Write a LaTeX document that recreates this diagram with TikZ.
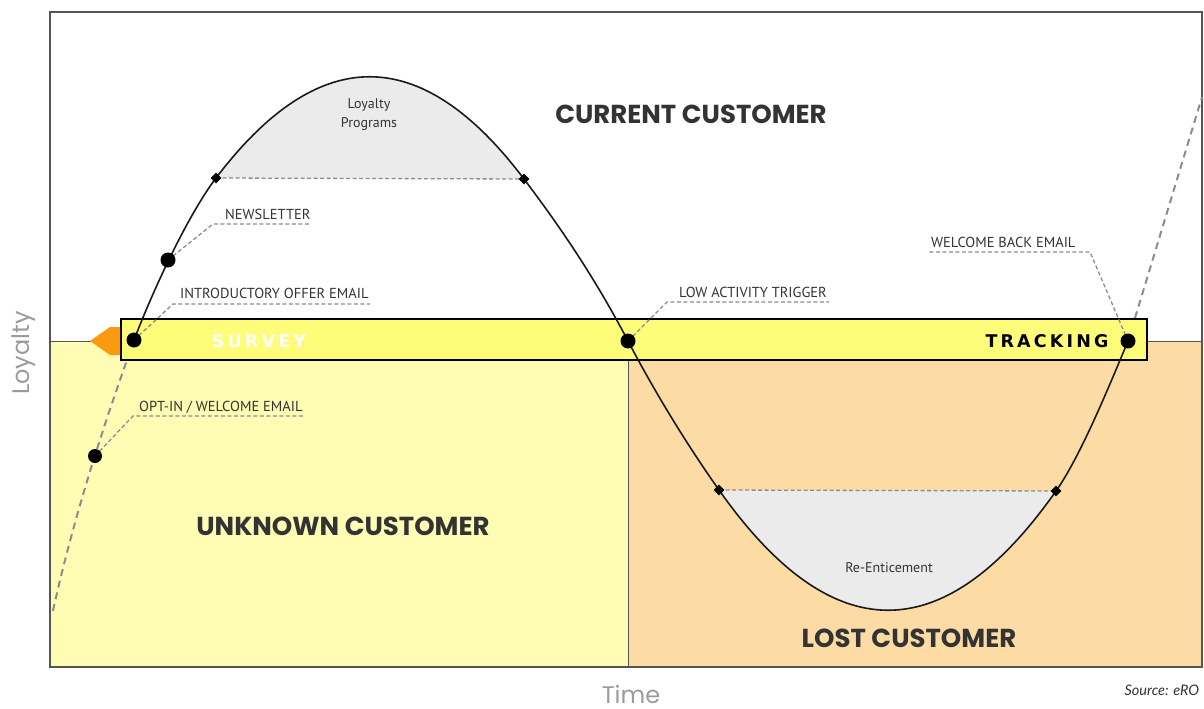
\documentclass[tikz,border=0pt]{standalone}
\usepackage{fontspec}
\setmainfont{PT Sans}
\newfontfamily\headfont{Poppins}
\newfontfamily\barfont{DejaVu Sans}[LetterSpace=18]
\newfontfamily\srcfont{Lato}
\usetikzlibrary{shapes.geometric}

\definecolor{unknownfill}{HTML}{FFFDB4}
\definecolor{lostfill}{HTML}{FDDBA5}
\definecolor{barfill}{HTML}{FFFC7A}
\definecolor{arrowfill}{HTML}{FA9A10}
\definecolor{zonefill}{HTML}{EBEBEB}
\definecolor{inkgray}{HTML}{333333}
\definecolor{inkblack}{HTML}{1A1A1A}
\definecolor{axisgray}{HTML}{9B9B9B}
\definecolor{framegray}{HTML}{555555}
\definecolor{dashgray}{HTML}{8C8C8C}

\begin{document}
\begin{tikzpicture}[x=1pt, y=-1pt,
    wave/.style={line width=1.6pt, inkblack},
    extline/.style={dashgray, line width=2pt, dash pattern=on 7pt off 5pt},
    leader/.style={dashgray, line width=1.3pt, dash pattern=on 4pt off 2.5pt},
    dot/.style={circle, fill=black, inner sep=0pt, minimum size=15pt},
    diamondmark/.style={diamond, fill=black, inner sep=0pt, minimum size=11pt},
    head/.style={font=\headfont\bfseries\fontsize{26}{30}\selectfont, text=inkgray},
    bartext/.style={font=\barfont\bfseries\fontsize{17.5}{20}\selectfont},
    lbl/.style={font=\fontsize{14.5}{16}\selectfont, text=inkgray, inner sep=0pt, anchor=base west},
    zone/.style={font=\fontsize{14}{19}\selectfont, text=inkgray, align=center},
    axislabel/.style={font=\headfont\fontsize{24}{26}\selectfont, text=axisgray, inner sep=0pt}]
    \useasboundingbox (0,0) rectangle (1204,709);

    % Fondo y marco
    \fill[unknownfill] (50,341) rectangle (628,667);
    \fill[lostfill] (628,341) rectangle (1202,667);
    \draw[framegray, line width=1pt] (50,341) -- (1202,341);
    \draw[framegray, line width=1pt] (628,341) -- (628,667);
    \draw[framegray, line width=2pt] (50,12) rectangle (1202,667);

    % Puntos de la curva
    \coordinate (start) at (134,340);
    \coordinate (news) at (168,260);
    \coordinate (lp-l) at (216,178);
    \coordinate (lp-r) at (524,179);
    \coordinate (lowact) at (628,341);
    \coordinate (re-l) at (719,490);
    \coordinate (re-r) at (1056,491);
    \coordinate (back) at (1128,341);
    \coordinate (optin) at (95,456);
    \coordinate (ext-l) at (52,615);
    \coordinate (ext-r) at (1202,97);

    % Zonas sombreadas
    \fill[zonefill] (lp-l) .. controls (318.7,42.7) and (421.3,43) .. (lp-r) -- cycle;
    \fill[zonefill] (re-l) .. controls (831.7,650) and (944,650.3) .. (re-r) -- cycle;
    \draw[leader] (lp-l) -- (lp-r);
    \draw[leader] (re-l) -- (re-r);

    % Prolongaciones
    \draw[extline] (start) .. controls (113,400) and (78,497) .. (ext-l);
    \draw[extline] (back) -- (ext-r);

    % Barra
    \node[draw=black, line width=2.5pt, fill=barfill, minimum width=1026pt, minimum height=41pt, inner sep=0pt] (bar) at (634,339.5) {};
    \fill[arrowfill] (90,341) -- (110,327) -- (120,327) -- (120,355) -- (110,355) -- cycle;

    % Curva
    \draw[wave] (start) .. controls (155,285.4) and (189,213.6) .. (lp-l)
        .. controls (318.7,42.7) and (421.3,43) .. (lp-r)
        .. controls (559,225.5) and (593,274.5) .. (lowact)
        .. controls (658,398) and (689,447.4) .. (re-l)
        .. controls (831.7,650) and (944,650.3) .. (re-r)
        .. controls (1080,457) and (1108,389) .. (back);

    % Lineas de etiqueta
    \coordinate (optin-b) at (133,416);  \coordinate (optin-e) at (303,416);
    \coordinate (start-b) at (173,304);  \coordinate (start-e) at (370,304);
    \coordinate (news-b) at (213,224);   \coordinate (news-e) at (310,224);
    \coordinate (lowact-b) at (667,302); \coordinate (lowact-e) at (829,302);
    \coordinate (back-b) at (1090,252);  \coordinate (back-e) at (927,252);
    \foreach \p in {optin, start, news, lowact, back}
        \draw[leader] (\p) -- (\p-b) -- (\p-e);

    % Marcas
    \node[dot, minimum size=14pt] (optin-dot) at (optin) {};
    \foreach \p in {start, news, lowact, back}
        \node[dot] (\p-dot) at (\p) {};
    \foreach \p in {lp-l, lp-r, re-l, re-r}
        \node[diamondmark] (\p-mark) at (\p) {};

    % Textos
    \node[head] (current) at (691,114) {CURRENT CUSTOMER};
    \node[head] (unknown) at (343,526) {UNKNOWN CUSTOMER};
    \node[head] (lost) at (909,638) {LOST CUSTOMER};
    \node[bartext, text=white] (survey) at (259,341) {SURVEY};
    \node[bartext, text=black] (tracking) at (1047,341) {TRACKING};

    \node[lbl] (optin-lbl) at (139,411) {OPT-IN / WELCOME EMAIL};
    \node[lbl] (start-lbl) at (180,298) {INTRODUCTORY OFFER EMAIL};
    \node[lbl] (news-lbl) at (225,219) {NEWSLETTER};
    \node[lbl] (lowact-lbl) at (679,297) {LOW ACTIVITY TRIGGER};
    \node[lbl] (back-lbl) at (931,247) {WELCOME BACK EMAIL};

    \node[zone] (loyalty-zone) at (369,115) {Loyalty\\Programs};
    \node[zone] (re-zone) at (889,568) {Re-Enticement};

    \node[axislabel, rotate=90] (loyalty) at (24,353) {Loyalty};
    \node[axislabel] (time) at (631,694) {Time};
    \node[font=\srcfont\itshape\fontsize{14.5}{16}\selectfont, text=inkgray, anchor=base west] (source) at (1121,695) {Source: eRO};
\end{tikzpicture}
\end{document}
